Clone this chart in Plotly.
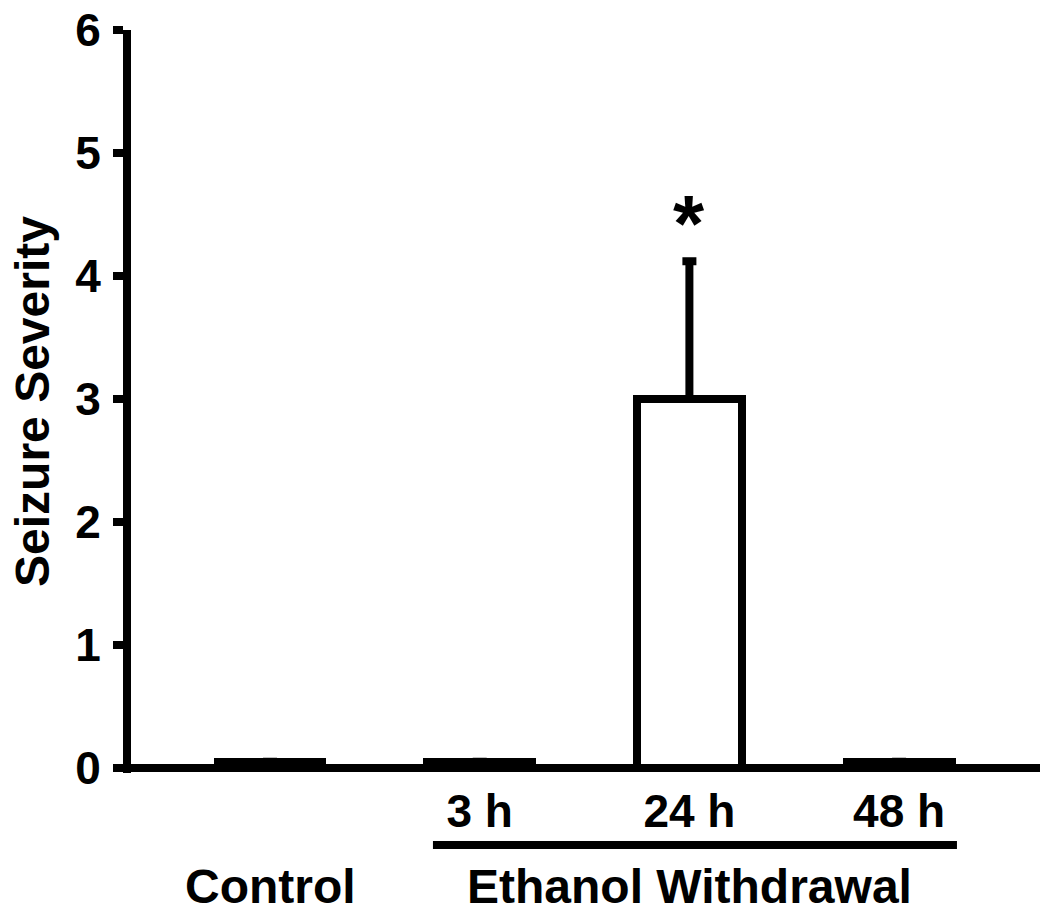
import plotly.graph_objects as go

# ---- data ----
groups = ["Control", "3 h", "24 h", "48 h"]
group_pos = [0, 1, 2, 3]
severity = [0.05, 0.05, 3.0, 0.05]
sem_upper = [0.0, 0.0, 1.12, 0.0]
time_ticks = [1, 2, 3]
time_labels = ["3 h", "24 h", "48 h"]
y_ticks = [0, 1, 2, 3, 4, 5, 6]
signif_group = 2
signif_y = 4.43

FONT = "Liberation Sans, Arial, Helvetica, sans-serif"

fig = go.Figure()
fig.add_trace(go.Bar(
    x=group_pos, y=severity, width=0.5,
    marker=dict(color="white", line=dict(color="black", width=8)),
    error_y=dict(type="data", symmetric=False, array=sem_upper,
                 arrayminus=[0] * len(sem_upper),
                 color="black", thickness=8, width=7),
    showlegend=False,
))

fig.update_layout(
    width=1040, height=912,
    margin=dict(l=131, r=0, t=30, b=139),
    paper_bgcolor="white", plot_bgcolor="white",
    font=dict(family=FONT, color="black"),
    bargap=0,
    xaxis=dict(
        range=[-0.663, 3.672], showgrid=False, zeroline=False,
        showline=False,
        tickmode="array", tickvals=time_ticks, ticktext=time_labels,
        ticks="", ticklen=0, tickfont=dict(size=46, family=FONT, weight="bold"),
        ticklabelstandoff=7,
    ),
    yaxis=dict(
        range=[-0.0407, 6], showgrid=False,
        zeroline=True, zerolinecolor="black", zerolinewidth=8,
        showline=True, linecolor="black", linewidth=8,
        tickmode="array", tickvals=y_ticks,
        ticks="outside", ticklen=10, tickwidth=8, tickcolor="black",
        tickfont=dict(size=46, family=FONT, weight="bold"),
        ticklabelstandoff=3,
        title=dict(text="Seizure Severity", standoff=13,
                   font=dict(size=48, family=FONT, weight="bold")),
    ),
)

fig.add_annotation(x=signif_group, y=signif_y, xref="x", yref="y",
                   text="*", showarrow=False,
                   font=dict(size=80, family=FONT, weight="bold"))
fig.add_annotation(x=group_pos[0], y=-0.1534, xref="x", yref="paper",
                   text="Control", showarrow=False, yanchor="middle",
                   font=dict(size=48, family=FONT, weight="bold"))
fig.add_annotation(x=(time_ticks[0] + time_ticks[-1]) / 2, y=-0.1534,
                   xref="x", yref="paper",
                   text="Ethanol Withdrawal", showarrow=False, yanchor="middle",
                   font=dict(size=48, family=FONT, weight="bold"))
fig.add_shape(type="line", xref="x", yref="paper",
              x0=time_ticks[0] - 0.223, x1=time_ticks[-1] + 0.276,
              y0=-0.0969, y1=-0.0969,
              line=dict(color="black", width=8))

fig.write_html("out.html", config={"displayModeBar": False},
               post_script="document.body.style.margin='0';document.body.style.overflow='hidden';")
